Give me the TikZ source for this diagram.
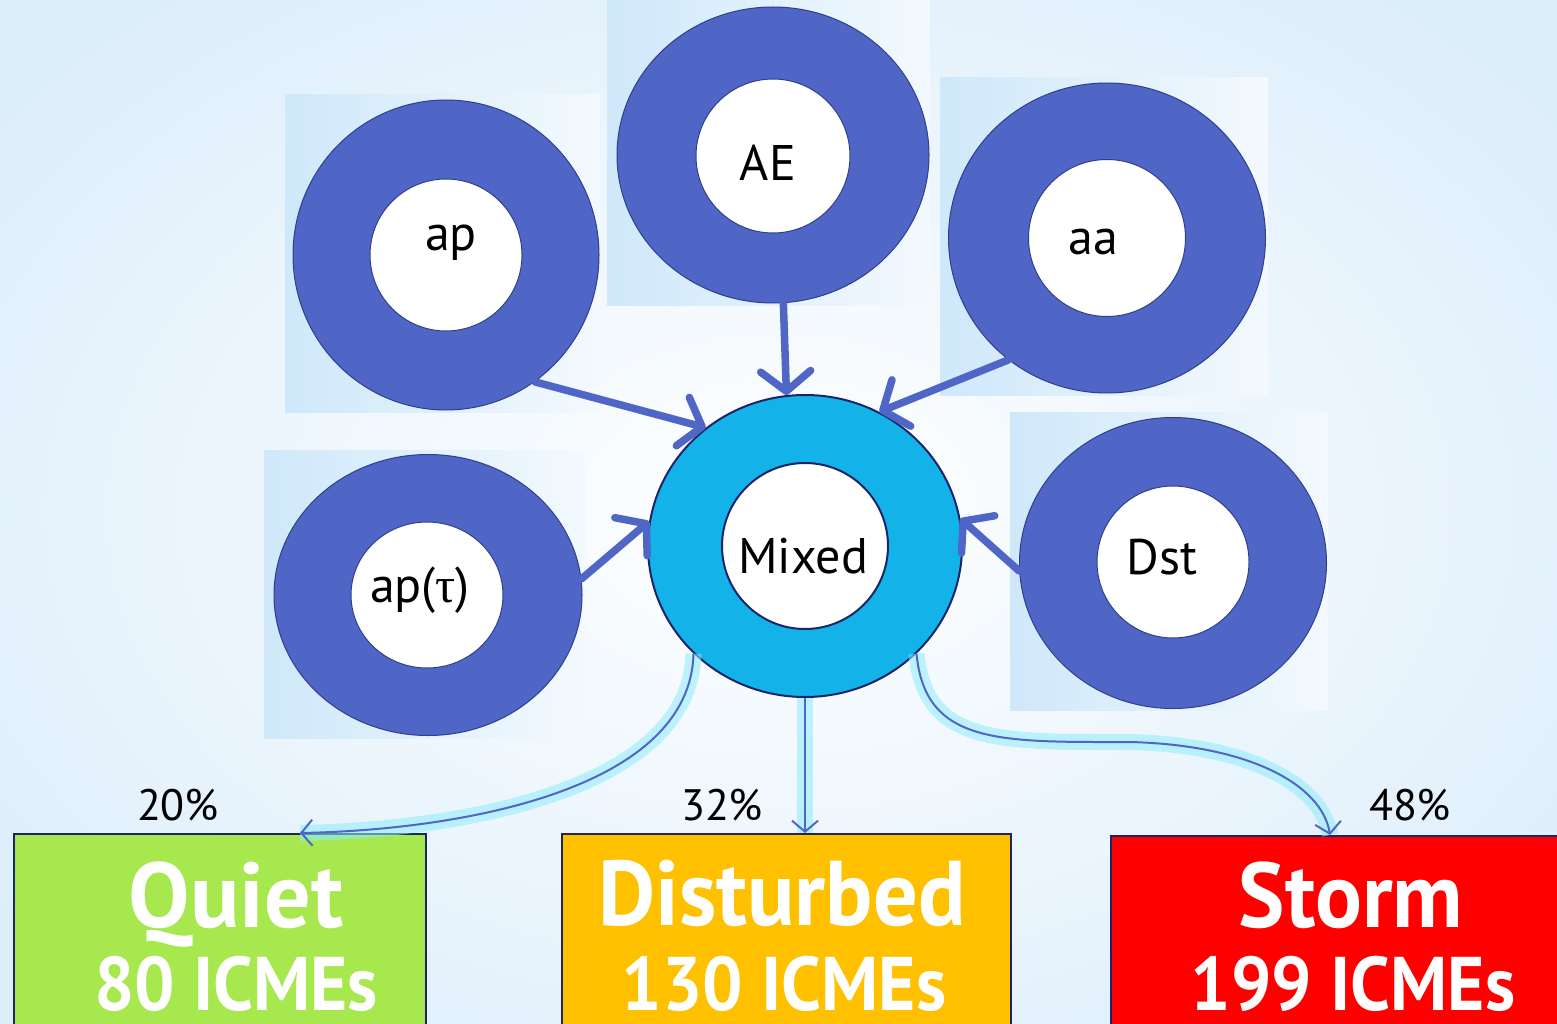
\documentclass[tikz,border=0pt]{standalone}
\usepackage{fontspec}
\usepackage{graphicx}
\setmainfont{PT Sans}
\newfontfamily\greekfont{Liberation Serif}
\usetikzlibrary{arrows.meta,shapes.geometric}
\newcommand{\narrowtext}[1]{\scalebox{0.94}[1]{#1}}

\begin{document}
\begin{tikzpicture}[x=1pt, y=-1pt,
  ring/.style={ellipse, draw=ringedge, line width=1pt, fill=ringblue, inner sep=0pt},
  hole/.style={circle, draw=ringedge, line width=1pt, fill=white, inner sep=0pt, minimum size=152pt},
  idx/.style={font=\fontsize{50}{56}\selectfont},
  feed/.style={draw=ringblue, line width=7.5pt, line cap=round,
    -{Straight Barb[length=20pt, width=50pt, round]}},
  split/.style={draw=ringblue, line width=2pt,
    -{Straight Barb[length=11pt, width=26pt]},
    preaction={draw=glow, line width=16pt, opacity=0.55, -}},
  catbox/.style={rectangle, draw=navy, line width=2pt, anchor=north west, inner sep=0pt},
  cattext/.style={text=white, anchor=base, inner sep=0pt, font=\fontsize{92}{92}\selectfont\bfseries},
  catnum/.style={text=white, anchor=base, inner sep=0pt, text depth=0pt, font=\fontsize{76}{76}\selectfont\bfseries},
  pct/.style={font=\fontsize{44}{50}\selectfont}]
  \definecolor{ringblue}{HTML}{4F66C6}
  \definecolor{ringedge}{HTML}{2F3F8C}
  \definecolor{navy}{HTML}{1B2466}
  \definecolor{mixcyan}{HTML}{13B3E9}
  \definecolor{glow}{HTML}{8EECFD}
  \definecolor{pale}{HTML}{DDEEFB}
  \definecolor{sqpale}{HTML}{CFE8FA}
  \definecolor{quietgreen}{HTML}{A6E84E}
  \definecolor{distgold}{HTML}{FFC000}
  \definecolor{stormred}{HTML}{FF0000}
  \useasboundingbox (0,0) rectangle (1557,1024);
  \clip (0,0) rectangle (1557,1024);
  \shade[inner color=white, outer color=pale] (-200,-150) rectangle (1757,1174);

  % image backgrounds behind the rings
  \shade[left color=sqpale, right color=sqpale!25] (285,95) rectangle (600,412);
  \shade[left color=sqpale, right color=sqpale!25] (607,0) rectangle (930,305);
  \shade[left color=sqpale, right color=sqpale!25] (940,78) rectangle (1268,395);
  \shade[left color=sqpale, right color=sqpale!25] (264,450) rectangle (585,738);
  \shade[left color=sqpale, right color=sqpale!25] (1010,412) rectangle (1328,710);

  % index rings
  \node[ring, minimum width=306pt, minimum height=310pt] (apring) at (446,255) {};
  \node[hole] (ap) at (446,255) {};
  \node[idx] (aptxt) at (451,243) {ap};
  \node[ring, minimum width=312pt, minimum height=296pt] (aering) at (773,155) {};
  \node[hole, minimum size=154pt] (ae) at (773,156) {};
  \node[idx] (aetxt) at (768,163) {AE};
  \node[ring, minimum width=317pt, minimum height=310pt] (aaring) at (1107,238) {};
  \node[hole, minimum size=157pt] (aa) at (1107,238) {};
  \node[idx] (aatxt) at (1093,242) {aa};
  \node[ring, minimum width=308pt, minimum height=281pt] (taring) at (428,595) {};
  \node[hole, minimum width=152pt, minimum height=146pt, ellipse] (aptau) at (427,595) {};
  \node[idx] (aptautxt) at (420,590) {ap({\greekfont τ})};
  \node[ring, minimum width=307pt, minimum height=291pt] (dstring) at (1173,563) {};
  \node[hole] (dst) at (1173,562) {};
  \node[idx] (dsttxt) at (1162,557) {Dst};

  % mixed index
  \node[ring, draw=navy, line width=2pt, fill=mixcyan, minimum width=314pt, minimum height=302pt] (mixring) at (805,546) {};
  \node[hole, draw=navy, line width=2pt, minimum size=166pt] (mixed) at (805,546) {};
  \node[idx] (mixedtxt) at (803,556) {Mixed};

  \draw[feed] (apring.-55) -- (mixring.130);
  \draw[feed] (aering.-86) -- (mixring.97);
  \draw[feed] (aaring.-129) -- (mixring.61);
  \draw[feed] (taring.6) -- (mixring.171);
  \draw[feed] (dstring.183) -- (mixring.10);

  % categories
  \node[catbox, fill=quietgreen, minimum width=412pt, minimum height=220pt] (quiet) at (13,833) {};
  \node[catbox, fill=distgold, minimum width=449pt, minimum height=220pt] (disturbed) at (561,833) {};
  \node[catbox, fill=stormred, minimum width=449pt, minimum height=220pt] (storm) at (1110,835) {};
  \node[cattext] (quiett) at (236,927) {Quiet};
  \node[catnum] (quietn) at (236,1010) {\narrowtext{80 ICMEs}};
  \node[cattext] (disturbedt) at (782,925) {\scalebox{0.96}[1]{Disturbed}};
  \node[catnum] (disturbedn) at (784,1010) {\narrowtext{130 ICMEs}};
  \node[cattext] (stormt) at (1351,927) {\scalebox{0.95}[1]{Storm}};
  \node[catnum] (stormn) at (1353,1010) {\narrowtext{199 ICMEs}};

  \node[pct] (pq) at (178,805) {20\%};
  \node[pct] (pd) at (722,805) {32\%};
  \node[pct] (ps) at (1410,805) {48\%};

  \coordinate (qin) at (300,833);
  \coordinate (din) at (805,833);
  \coordinate (sin) at (1330,835);
  \draw[split] (mixring.-136) .. controls (690,790) and (460,830) .. (qin);
  \draw[split] (mixring.south) -- (din);
  \draw[split] (mixring.-44) .. controls (925,745) and (1000,742) .. (1130,742)
    .. controls (1250,745) and (1322,785) .. (sin);
\end{tikzpicture}
\end{document}
